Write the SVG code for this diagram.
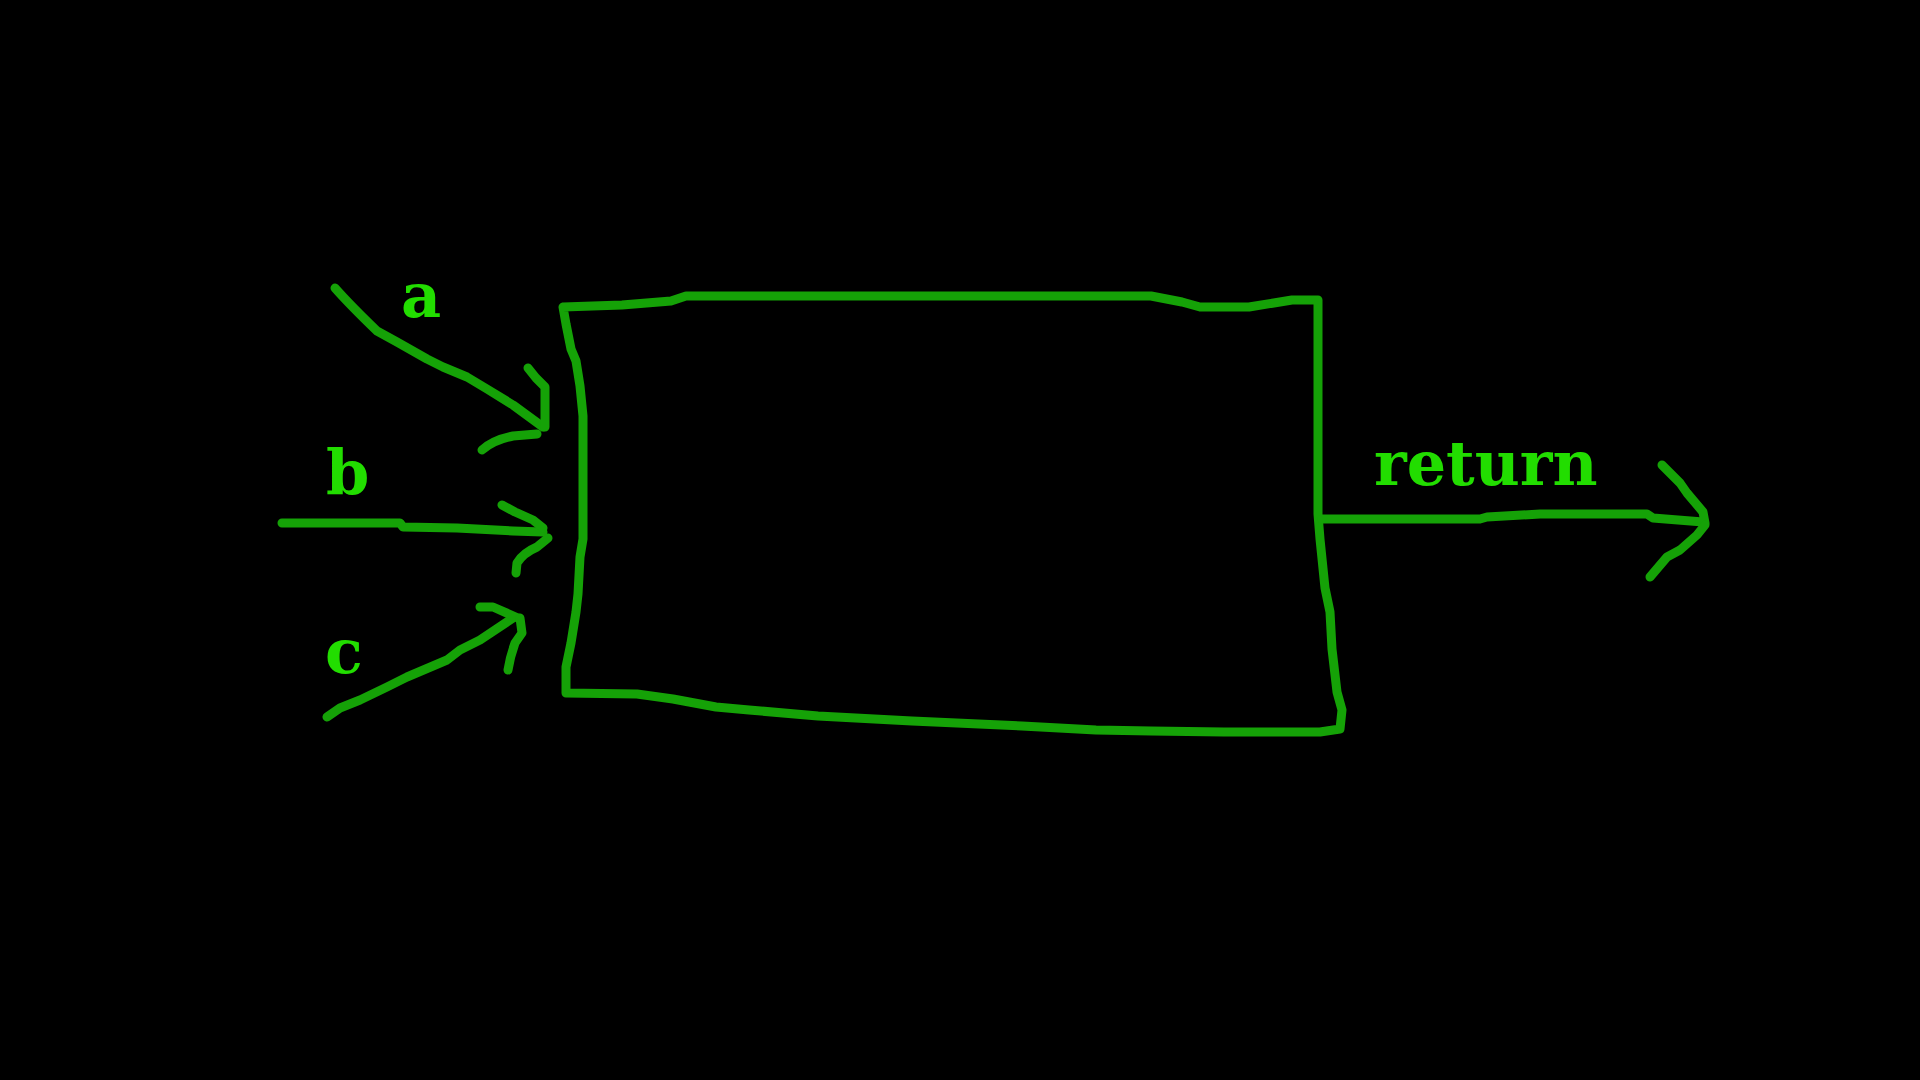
<svg xmlns="http://www.w3.org/2000/svg" width="1920" height="1080" viewBox="0 0 1920 1080">
<style>
.s{fill:none;stroke:#15a207;stroke-width:9;stroke-linecap:round;stroke-linejoin:round}
.t{font-family:"DejaVu Serif","Liberation Serif",serif;font-weight:bold;font-size:62px;fill:#22dd00}
</style>
<rect width="1920" height="1080" fill="#000"/>
<g id="box">
<path class="s" d="M563,307 L622,305 L671,301 L686,296 L1151,296 L1182,302 L1200,307 L1249,307 L1292,300 L1318,300 L1318,328 L1318,514 L1320,539 L1325,588 L1330,612 L1332,649 L1337,692 L1342,710 L1340,729 L1320,732 L1224,732 L1151,731 L1096,730 L1022,726 L912,721 L818,716 L749,710 L716,707 L673,699 L637,694 L566,693 L566,667 L571,643 L576,612 L578,594 L580,557 L583,539 L583,416 L580,386 L576,361 L571,349 L566,324 Z"/>
</g>
<g id="connectors">
<g id="arrow-a">
<path class="s" d="M335,288 Q350,305 377,331 L397,342 L427,359 L443,367 L467,377 L487,389 L513,405 L543,427"/>
<path class="s" d="M528,368 L536,378 L545,387 L545,427"/>
<path class="s" d="M482,450 Q493,440 513,436 L537,434"/>
</g>
<g id="arrow-b">
<path class="s" d="M282,523 L400,523 L403,527 L457,528 L513,531 L543,532"/>
<path class="s" d="M502,505 L515,512 L533,520 L543,528"/>
<path class="s" d="M548,538 L537,547 Q523,553 517,563 L516,573"/>
</g>
<g id="arrow-c">
<path class="s" d="M327,717 L340,708 L360,700 L387,687 L407,677 L447,660 L460,650 L480,640 L513,618"/>
<path class="s" d="M480,607 L493,607 L518,618"/>
<path class="s" d="M520,618 L522,633 L515,643 Q510,657 508,670"/>
</g>
<g id="arrow-return">
<path class="s" d="M1322,519 L1480,519 L1487,517 L1540,514 L1647,514 L1653,518 L1703,522"/>
<path class="s" d="M1662,465 L1670,473 L1680,483 L1687,493 L1703,512 L1705,523"/>
<path class="s" d="M1705,525 L1697,535 L1680,550 L1667,557 L1650,577"/>
</g>
</g>
<g id="labels">
<text class="t" x="401" y="317">a</text>
<text class="t" x="326" y="494">b</text>
<text class="t" x="325" y="673">c</text>
<text class="t" x="1374" y="485">return</text>
</g>
</svg>
